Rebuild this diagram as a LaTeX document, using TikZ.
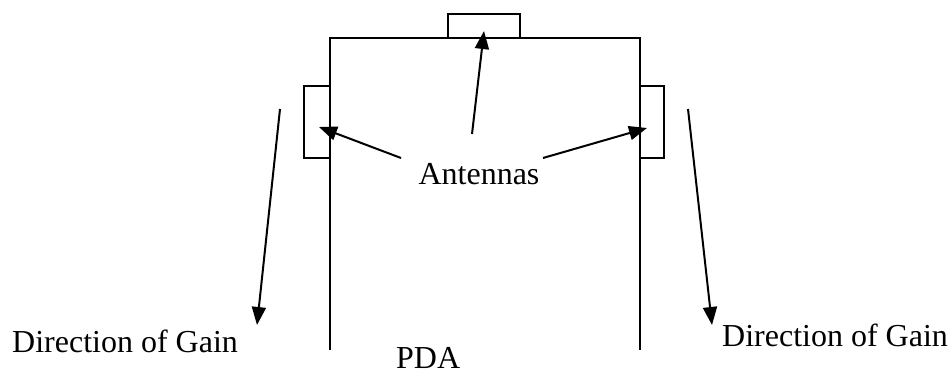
\documentclass[tikz,border=0pt]{standalone}
\usepackage{fontspec}
\setmainfont{Liberation Serif}
\usetikzlibrary{arrows.meta}
\begin{document}
\begin{tikzpicture}[x=1pt,y=-1pt,
  body/.style={line width=2.3pt},
  ptr/.style={line width=2pt,-{Triangle[length=18pt,width=14pt]}},
  lbl/.style={inner sep=0pt,font=\fontsize{32}{36}\selectfont}]
\useasboundingbox (0,0) rectangle (949,369);
% PDA body
\draw[body] (330,350) -- (330,38) -- (640,38) -- (640,350);
% antennas
\draw[body] (448,38) -- (448,14) -- (520,14) -- (520,38);
\draw[body] (330,86) -- (304,86) -- (304,158) -- (330,158);
\draw[body] (640,86) -- (664,86) -- (664,158) -- (640,158);
% labels
\node[lbl,anchor=base] (ant) at (479,184) {Antennas};
\node[lbl,anchor=base west] (dgl) at (12,352) {Direction of Gain};
\node[lbl,anchor=base west] (dgr) at (722,346) {Direction of Gain};
\node[lbl,anchor=base west] (pda) at (396,368) {PDA};
% arrow coordinates
\coordinate (ac) at (472,134);
\coordinate (atop) at (484,31);
\coordinate (al) at (401,158);
\coordinate (aleft) at (319,127);
\coordinate (ar) at (543,158);
\coordinate (aright) at (647,128);
\coordinate (gl0) at (280,109);
\coordinate (gl1) at (257,325);
\coordinate (gr0) at (688,109);
\coordinate (gr1) at (712,325);
\draw[ptr] (ac) -- (atop);
\draw[ptr] (al) -- (aleft);
\draw[ptr] (ar) -- (aright);
\draw[ptr] (gl0) -- (gl1);
\draw[ptr] (gr0) -- (gr1);
\end{tikzpicture}
\end{document}
